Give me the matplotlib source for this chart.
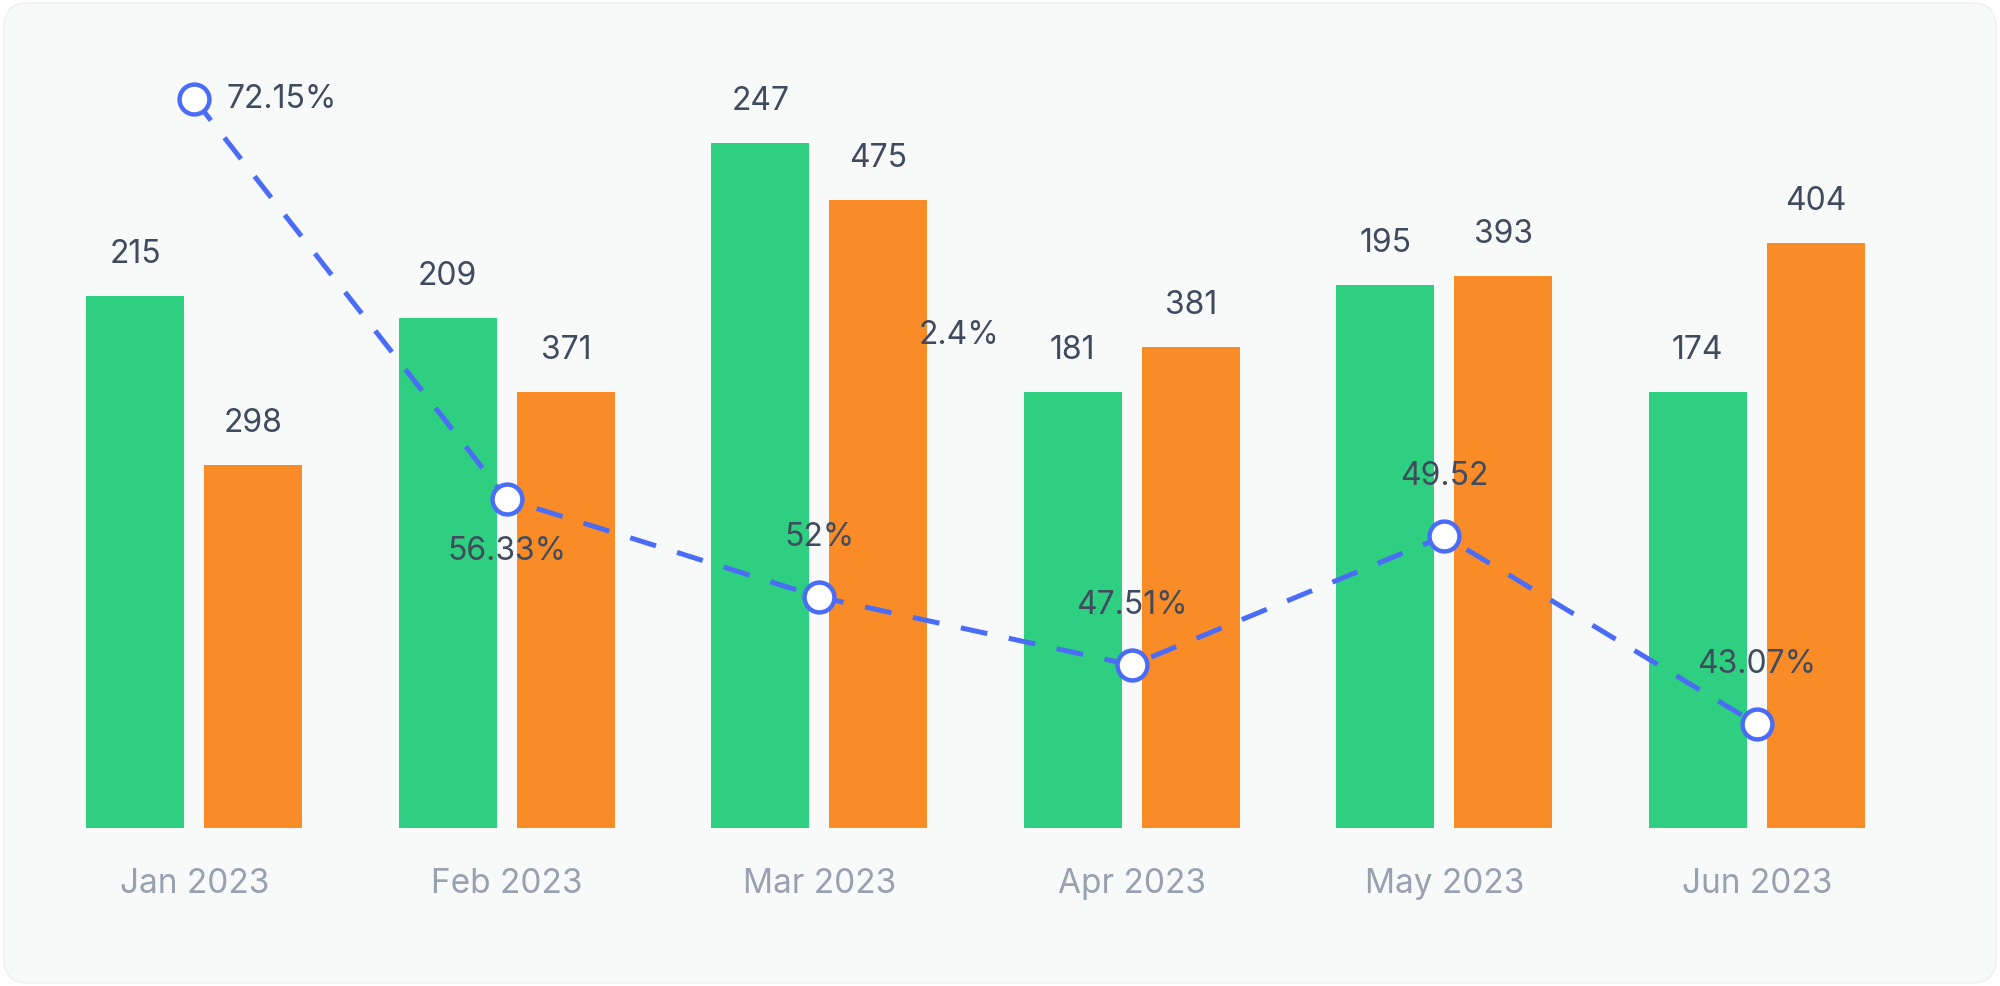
"""
Monthly bars with a dashed rate line on a second axis.
"""

import matplotlib
matplotlib.use('Agg')  # Use non-interactive backend
import matplotlib.pyplot as plt
from matplotlib.patches import FancyBboxPatch

plt.rcParams['font.family'] = ['Inter', 'DejaVu Sans']

# Data
months = ['Jan 2023', 'Feb 2023', 'Mar 2023', 'Apr 2023', 'May 2023', 'Jun 2023']
green_heights = [402, 385, 517, 329, 410, 329]
orange_heights = [274, 329, 474, 363, 417, 442]
green_labels = ['215', '209', '247', '181', '195', '174']
orange_labels = ['298', '371', '475', '381', '393', '404']
rate_values = [72.17, 53.42, 48.83, 45.64, 51.69, 42.87]
rate_labels = ['72.15%', '56.33%', '52%', '47.51%', '49.52', '43.07%']
extra_label = '2.4%'

# Colours
GREEN = '#2ecf80'
ORANGE = '#fa8c28'
BLUE = '#4a6cf7'
TEXT = '#404b5d'
TICK = '#98a1af'
BG = '#f8fafa'

# Create figure
fig = plt.figure(figsize=(20, 9.86), dpi=100, facecolor='white')
card = FancyBboxPatch((0.002, 0.003), 0.996, 0.994,
                      boxstyle='round,pad=0,rounding_size=0.012',
                      transform=fig.transFigure, facecolor=BG,
                      edgecolor='#eef0f0', linewidth=1, zorder=-10,
                      mutation_aspect=2000 / 986)
fig.patches.append(card)

ax = fig.add_axes([0.019, 0.1602, 0.9375, 0.7789])
ax.set_facecolor('none')
x = list(range(len(months)))
bar_w = 0.3136
off = 0.189

# Bars
gbars = ax.bar([i - off for i in x], green_heights, width=bar_w, color=GREEN, zorder=2)
obars = ax.bar([i + off for i in x], orange_heights, width=bar_w, color=ORANGE, zorder=2)
ax.set_xlim(-0.5, len(months) - 0.5)
ax.set_ylim(0, 580)

# Value labels above bars
for bars, labels in ((gbars, green_labels), (obars, orange_labels)):
    for bar, lab in zip(bars, labels):
        ax.annotate(lab, (bar.get_x() + bar.get_width() / 2, bar.get_height()),
                    xytext=(0, 30), textcoords='offset points',
                    ha='center', va='center', fontsize=23, color=TEXT, zorder=5)

# Stray label between Mar and Apr
ax.text(2.448, 372, extra_label, ha='center', va='center', fontsize=23,
        color=TEXT, zorder=5)

# Axis styling
ax.set_xticks(x)
ax.set_xticklabels(months, fontsize=24, color=TICK)
ax.tick_params(axis='x', length=0, pad=29)
ax.set_yticks([])
for s in ax.spines.values():
    s.set_visible(False)

# Rate line on secondary axis
ax2 = ax.twinx()
ax2.set_ylim(38, 74)
ax2.set_yticks([])
for s in ax2.spines.values():
    s.set_visible(False)
ax2.plot(x, rate_values, color=BLUE, linewidth=3.6,
         linestyle=(0, (5.4, 4.4)), marker='o', markersize=21.5,
         markerfacecolor='white', markeredgecolor=BLUE, markeredgewidth=3.2,
         zorder=3)

# Rate labels: first to the right, second below, rest above
for i, (v, lab) in enumerate(zip(rate_values, rate_labels)):
    if i == 0:
        xy, ha = (23, 0), 'left'
    elif i == 1:
        xy, ha = (0, -38), 'center'
    else:
        xy, ha = (0, 43), 'center'
    ax2.annotate(lab, (i, v), xytext=xy, textcoords='offset points',
                 ha=ha, va='center', fontsize=23, color=TEXT, zorder=6)

fig.savefig('out.png', dpi=100, facecolor='white')
plt.close()
